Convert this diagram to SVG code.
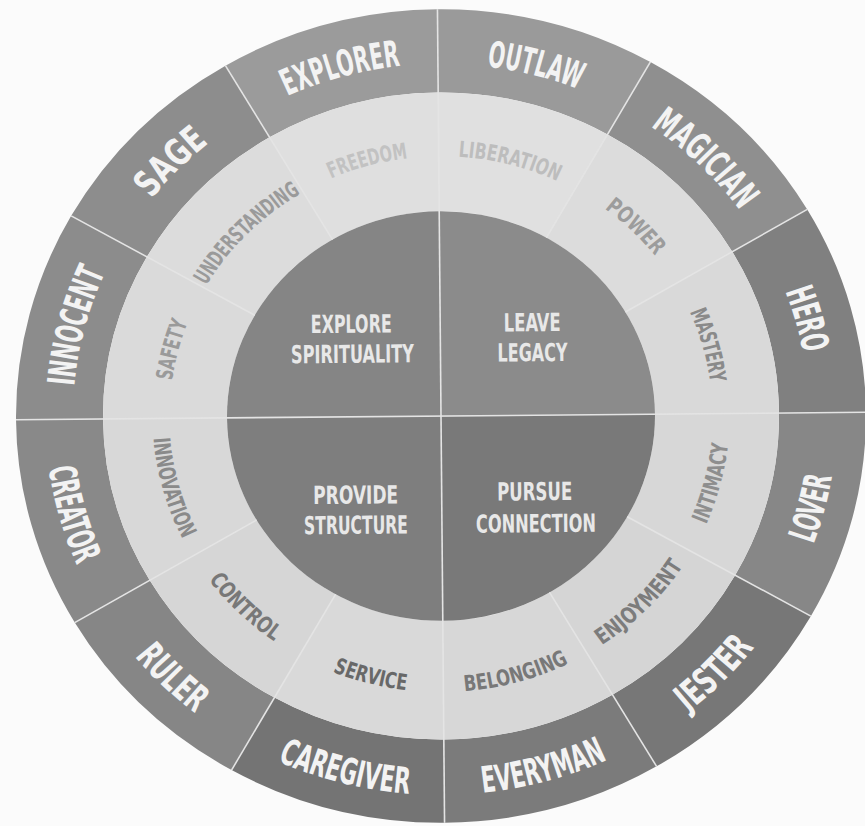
<svg xmlns="http://www.w3.org/2000/svg" xmlns:xlink="http://www.w3.org/1999/xlink" width="865" height="826" viewBox="0 0 865 826">
<style>
.lbl{font-family:"Liberation Sans Narrow","DejaVu Sans Condensed","Liberation Sans",sans-serif;font-weight:bold;}
.out{font-size:38px;fill:#f3f3f3;}
.mid{font-size:23px;}
.inn{font-size:26px;fill:#e8e8e8;text-anchor:middle;}
.div{stroke:#e4e4e4;stroke-width:1.6;fill:none;}
</style>
<defs>
<path id="upO" d="M -125.86 -345.81 A 368 368 0 0 1 125.86 -345.81"/>
<path id="loO" d="M -135.44 372.12 A 396 396 0 0 0 135.44 372.12"/>
<path id="upM" d="M -92.86 -255.13 A 271.5 271.5 0 0 1 92.86 -255.13"/>
<path id="loM" d="M -98.67 271.10 A 288.5 288.5 0 0 0 98.67 271.10"/>
</defs>
<rect width="865" height="826" fill="#fbfbfb"/>
<g transform="translate(441,416) rotate(-0.5) scale(1,0.957)">
<!-- outer ring archetypes -->
<g id="outlaw"><path d="M 0 -425 A 425 425 0 0 1 212.5 -368.06 L 169 -292.72 A 338 338 0 0 0 0 -338 Z" fill="#9a9a9a"/>
<text class="lbl out" transform="rotate(15)"><textPath href="#upO" startOffset="50%" text-anchor="middle" textLength="95" lengthAdjust="spacingAndGlyphs">OUTLAW</textPath></text></g>
<g id="magician"><path d="M 212.5 -368.06 A 425 425 0 0 1 368.06 -212.5 L 292.72 -169 A 338 338 0 0 0 169 -292.72 Z" fill="#8f8f8f"/>
<text class="lbl out" transform="rotate(45)"><textPath href="#upO" startOffset="50%" text-anchor="middle" textLength="126" lengthAdjust="spacingAndGlyphs">MAGICIAN</textPath></text></g>
<g id="hero"><path d="M 368.06 -212.5 A 425 425 0 0 1 425 0 L 338 0 A 338 338 0 0 0 292.72 -169 Z" fill="#808080"/>
<text class="lbl out" transform="rotate(75)"><textPath href="#upO" startOffset="50%" text-anchor="middle" textLength="67" lengthAdjust="spacingAndGlyphs">HERO</textPath></text></g>
<g id="lover"><path d="M 425 0 A 425 425 0 0 1 368.06 212.5 L 292.72 169 A 338 338 0 0 0 338 0 Z" fill="#878787"/>
<text class="lbl out" transform="rotate(-75)"><textPath href="#loO" startOffset="50%" text-anchor="middle" textLength="73" lengthAdjust="spacingAndGlyphs">LOVER</textPath></text></g>
<g id="jester"><path d="M 368.06 212.5 A 425 425 0 0 1 212.5 368.06 L 169 292.72 A 338 338 0 0 0 292.72 169 Z" fill="#777777"/>
<text class="lbl out" transform="rotate(-45)"><textPath href="#loO" startOffset="50%" text-anchor="middle" textLength="95" lengthAdjust="spacingAndGlyphs">JESTER</textPath></text></g>
<g id="everyman"><path d="M 212.5 368.06 A 425 425 0 0 1 0 425 L 0 338 A 338 338 0 0 0 169 292.72 Z" fill="#7b7b7b"/>
<text class="lbl out" transform="rotate(-15)"><textPath href="#loO" startOffset="50%" text-anchor="middle" textLength="130" lengthAdjust="spacingAndGlyphs">EVERYMAN</textPath></text></g>
<g id="caregiver"><path d="M 0 425 A 425 425 0 0 1 -212.5 368.06 L -169 292.72 A 338 338 0 0 0 0 338 Z" fill="#747474"/>
<text class="lbl out" transform="rotate(15)"><textPath href="#loO" startOffset="50%" text-anchor="middle" textLength="137" lengthAdjust="spacingAndGlyphs">CAREGIVER</textPath></text></g>
<g id="ruler"><path d="M -212.5 368.06 A 425 425 0 0 1 -368.06 212.5 L -292.72 169 A 338 338 0 0 0 -169 292.72 Z" fill="#868686"/>
<text class="lbl out" transform="rotate(45)"><textPath href="#loO" startOffset="50%" text-anchor="middle" textLength="85" lengthAdjust="spacingAndGlyphs">RULER</textPath></text></g>
<g id="creator"><path d="M -368.06 212.5 A 425 425 0 0 1 -425 0 L -338 0 A 338 338 0 0 0 -292.72 169 Z" fill="#898989"/>
<text class="lbl out" transform="rotate(75)"><textPath href="#loO" startOffset="50%" text-anchor="middle" textLength="106" lengthAdjust="spacingAndGlyphs">CREATOR</textPath></text></g>
<g id="innocent"><path d="M -425 0 A 425 425 0 0 1 -368.06 -212.5 L -292.72 -169 A 338 338 0 0 0 -338 0 Z" fill="#8c8c8c"/>
<text class="lbl out" transform="rotate(-75)"><textPath href="#upO" startOffset="50%" text-anchor="middle" textLength="123" lengthAdjust="spacingAndGlyphs">INNOCENT</textPath></text></g>
<g id="sage"><path d="M -368.06 -212.5 A 425 425 0 0 1 -212.5 -368.06 L -169 -292.72 A 338 338 0 0 0 -292.72 -169 Z" fill="#8d8d8d"/>
<text class="lbl out" transform="rotate(-45)"><textPath href="#upO" startOffset="50%" text-anchor="middle" textLength="82" lengthAdjust="spacingAndGlyphs">SAGE</textPath></text></g>
<g id="explorer"><path d="M -212.5 -368.06 A 425 425 0 0 1 0 -425 L 0 -338 A 338 338 0 0 0 -169 -292.72 Z" fill="#9b9b9b"/>
<text class="lbl out" transform="rotate(-15)"><textPath href="#upO" startOffset="50%" text-anchor="middle" textLength="118" lengthAdjust="spacingAndGlyphs">EXPLORER</textPath></text></g>
<!-- middle ring values -->
<g id="liberation"><path d="M 0 -338 A 338 338 0 0 1 169 -292.72 L 107 -185.33 A 214 214 0 0 0 0 -214 Z" fill="#e0e0e0"/>
<text class="lbl mid" fill="#bdbdbd" transform="rotate(15)"><textPath href="#upM" startOffset="50%" text-anchor="middle" textLength="103" lengthAdjust="spacingAndGlyphs">LIBERATION</textPath></text></g>
<g id="power"><path d="M 169 -292.72 A 338 338 0 0 1 292.72 -169 L 185.33 -107 A 214 214 0 0 0 107 -185.33 Z" fill="#dcdcdc"/>
<text class="lbl mid" fill="#9c9c9c" transform="rotate(45)"><textPath href="#upM" startOffset="50%" text-anchor="middle" textLength="71" lengthAdjust="spacingAndGlyphs">POWER</textPath></text></g>
<g id="mastery"><path d="M 292.72 -169 A 338 338 0 0 1 338 0 L 214 0 A 214 214 0 0 0 185.33 -107 Z" fill="#d9d9d9"/>
<text class="lbl mid" fill="#8a8a8a" transform="rotate(75)"><textPath href="#upM" startOffset="50%" text-anchor="middle" textLength="77" lengthAdjust="spacingAndGlyphs">MASTERY</textPath></text></g>
<g id="intimacy"><path d="M 338 0 A 338 338 0 0 1 292.72 169 L 185.33 107 A 214 214 0 0 0 214 0 Z" fill="#d7d7d7"/>
<text class="lbl mid" fill="#8e8e8e" transform="rotate(-75)"><textPath href="#loM" startOffset="50%" text-anchor="middle" textLength="87" lengthAdjust="spacingAndGlyphs">INTIMACY</textPath></text></g>
<g id="enjoyment"><path d="M 292.72 169 A 338 338 0 0 1 169 292.72 L 107 185.33 A 214 214 0 0 0 185.33 107 Z" fill="#d5d5d5"/>
<text class="lbl mid" fill="#7c7c7c" transform="rotate(-45)"><textPath href="#loM" startOffset="50%" text-anchor="middle" textLength="117" lengthAdjust="spacingAndGlyphs">ENJOYMENT</textPath></text></g>
<g id="belonging"><path d="M 169 292.72 A 338 338 0 0 1 0 338 L 0 214 A 214 214 0 0 0 107 185.33 Z" fill="#d7d7d7"/>
<text class="lbl mid" fill="#787878" transform="rotate(-15)"><textPath href="#loM" startOffset="50%" text-anchor="middle" textLength="109" lengthAdjust="spacingAndGlyphs">BELONGING</textPath></text></g>
<g id="service"><path d="M 0 338 A 338 338 0 0 1 -169 292.72 L -107 185.33 A 214 214 0 0 0 0 214 Z" fill="#d9d9d9"/>
<text class="lbl mid" fill="#686868" transform="rotate(15)"><textPath href="#loM" startOffset="50%" text-anchor="middle" textLength="76" lengthAdjust="spacingAndGlyphs">SERVICE</textPath></text></g>
<g id="control"><path d="M -169 292.72 A 338 338 0 0 1 -292.72 169 L -185.33 107 A 214 214 0 0 0 -107 185.33 Z" fill="#d6d6d6"/>
<text class="lbl mid" fill="#787878" transform="rotate(45)"><textPath href="#loM" startOffset="50%" text-anchor="middle" textLength="92" lengthAdjust="spacingAndGlyphs">CONTROL</textPath></text></g>
<g id="innovation"><path d="M -292.72 169 A 338 338 0 0 1 -338 0 L -214 0 A 214 214 0 0 0 -185.33 107 Z" fill="#d8d8d8"/>
<text class="lbl mid" fill="#8a8a8a" transform="rotate(75)"><textPath href="#loM" startOffset="50%" text-anchor="middle" textLength="110" lengthAdjust="spacingAndGlyphs">INNOVATION</textPath></text></g>
<g id="safety"><path d="M -338 0 A 338 338 0 0 1 -292.72 -169 L -185.33 -107 A 214 214 0 0 0 -214 0 Z" fill="#dadada"/>
<text class="lbl mid" fill="#9a9a9a" transform="rotate(-75)"><textPath href="#upM" startOffset="50%" text-anchor="middle" textLength="63" lengthAdjust="spacingAndGlyphs">SAFETY</textPath></text></g>
<g id="understanding"><path d="M -292.72 -169 A 338 338 0 0 1 -169 -292.72 L -107 -185.33 A 214 214 0 0 0 -185.33 -107 Z" fill="#dcdcdc"/>
<text class="lbl mid" fill="#9a9a9a" transform="rotate(-45)"><textPath href="#upM" startOffset="50%" text-anchor="middle" textLength="136" lengthAdjust="spacingAndGlyphs">UNDERSTANDING</textPath></text></g>
<g id="freedom"><path d="M -169 -292.72 A 338 338 0 0 1 0 -338 L 0 -214 A 214 214 0 0 0 -107 -185.33 Z" fill="#dfdfdf"/>
<text class="lbl mid" fill="#c2c2c2" transform="rotate(-15)"><textPath href="#upM" startOffset="50%" text-anchor="middle" textLength="80" lengthAdjust="spacingAndGlyphs">FREEDOM</textPath></text></g>
<!-- inner quadrants -->
<g id="explore-spirituality"><path d="M 0 0 L -214 0 A 214 214 0 0 1 0 -214 Z" fill="#858585"/>
<text class="lbl inn" x="-89" y="-87.8" textLength="81" lengthAdjust="spacingAndGlyphs">EXPLORE</text>
<text class="lbl inn" x="-88" y="-56.4" textLength="123" lengthAdjust="spacingAndGlyphs">SPIRITUALITY</text></g>
<g id="leave-legacy"><path d="M 0 0 L 0 -214 A 214 214 0 0 1 214 0 Z" fill="#8b8b8b"/>
<text class="lbl inn" x="92" y="-87.8" textLength="57" lengthAdjust="spacingAndGlyphs">LEAVE</text>
<text class="lbl inn" x="92" y="-56.4" textLength="70" lengthAdjust="spacingAndGlyphs">LEGACY</text></g>
<g id="provide-structure"><path d="M 0 0 L 0 214 A 214 214 0 0 1 -214 0 Z" fill="#7e7e7e"/>
<text class="lbl inn" x="-86" y="90.9" textLength="85" lengthAdjust="spacingAndGlyphs">PROVIDE</text>
<text class="lbl inn" x="-86" y="122.3" textLength="104" lengthAdjust="spacingAndGlyphs">STRUCTURE</text></g>
<g id="pursue-connection"><path d="M 0 0 L 214 0 A 214 214 0 0 1 0 214 Z" fill="#797979"/>
<text class="lbl inn" x="93" y="88.8" textLength="75" lengthAdjust="spacingAndGlyphs">PURSUE</text>
<text class="lbl inn" x="94" y="122.3" textLength="120" lengthAdjust="spacingAndGlyphs">CONNECTION</text></g>
<!-- dividers -->
<g id="connectors" class="div">
<line x1="0" y1="-425" x2="0" y2="425"/>
<line x1="-425" y1="0" x2="425" y2="0"/>
<line x1="107" y1="-185.33" x2="212.5" y2="-368.06"/>
<line x1="185.33" y1="-107" x2="368.06" y2="-212.5"/>
<line x1="185.33" y1="107" x2="368.06" y2="212.5"/>
<line x1="107" y1="185.33" x2="212.5" y2="368.06"/>
<line x1="-107" y1="185.33" x2="-212.5" y2="368.06"/>
<line x1="-185.33" y1="107" x2="-368.06" y2="212.5"/>
<line x1="-185.33" y1="-107" x2="-368.06" y2="-212.5"/>
<line x1="-107" y1="-185.33" x2="-212.5" y2="-368.06"/>
</g>
</g>
</svg>
